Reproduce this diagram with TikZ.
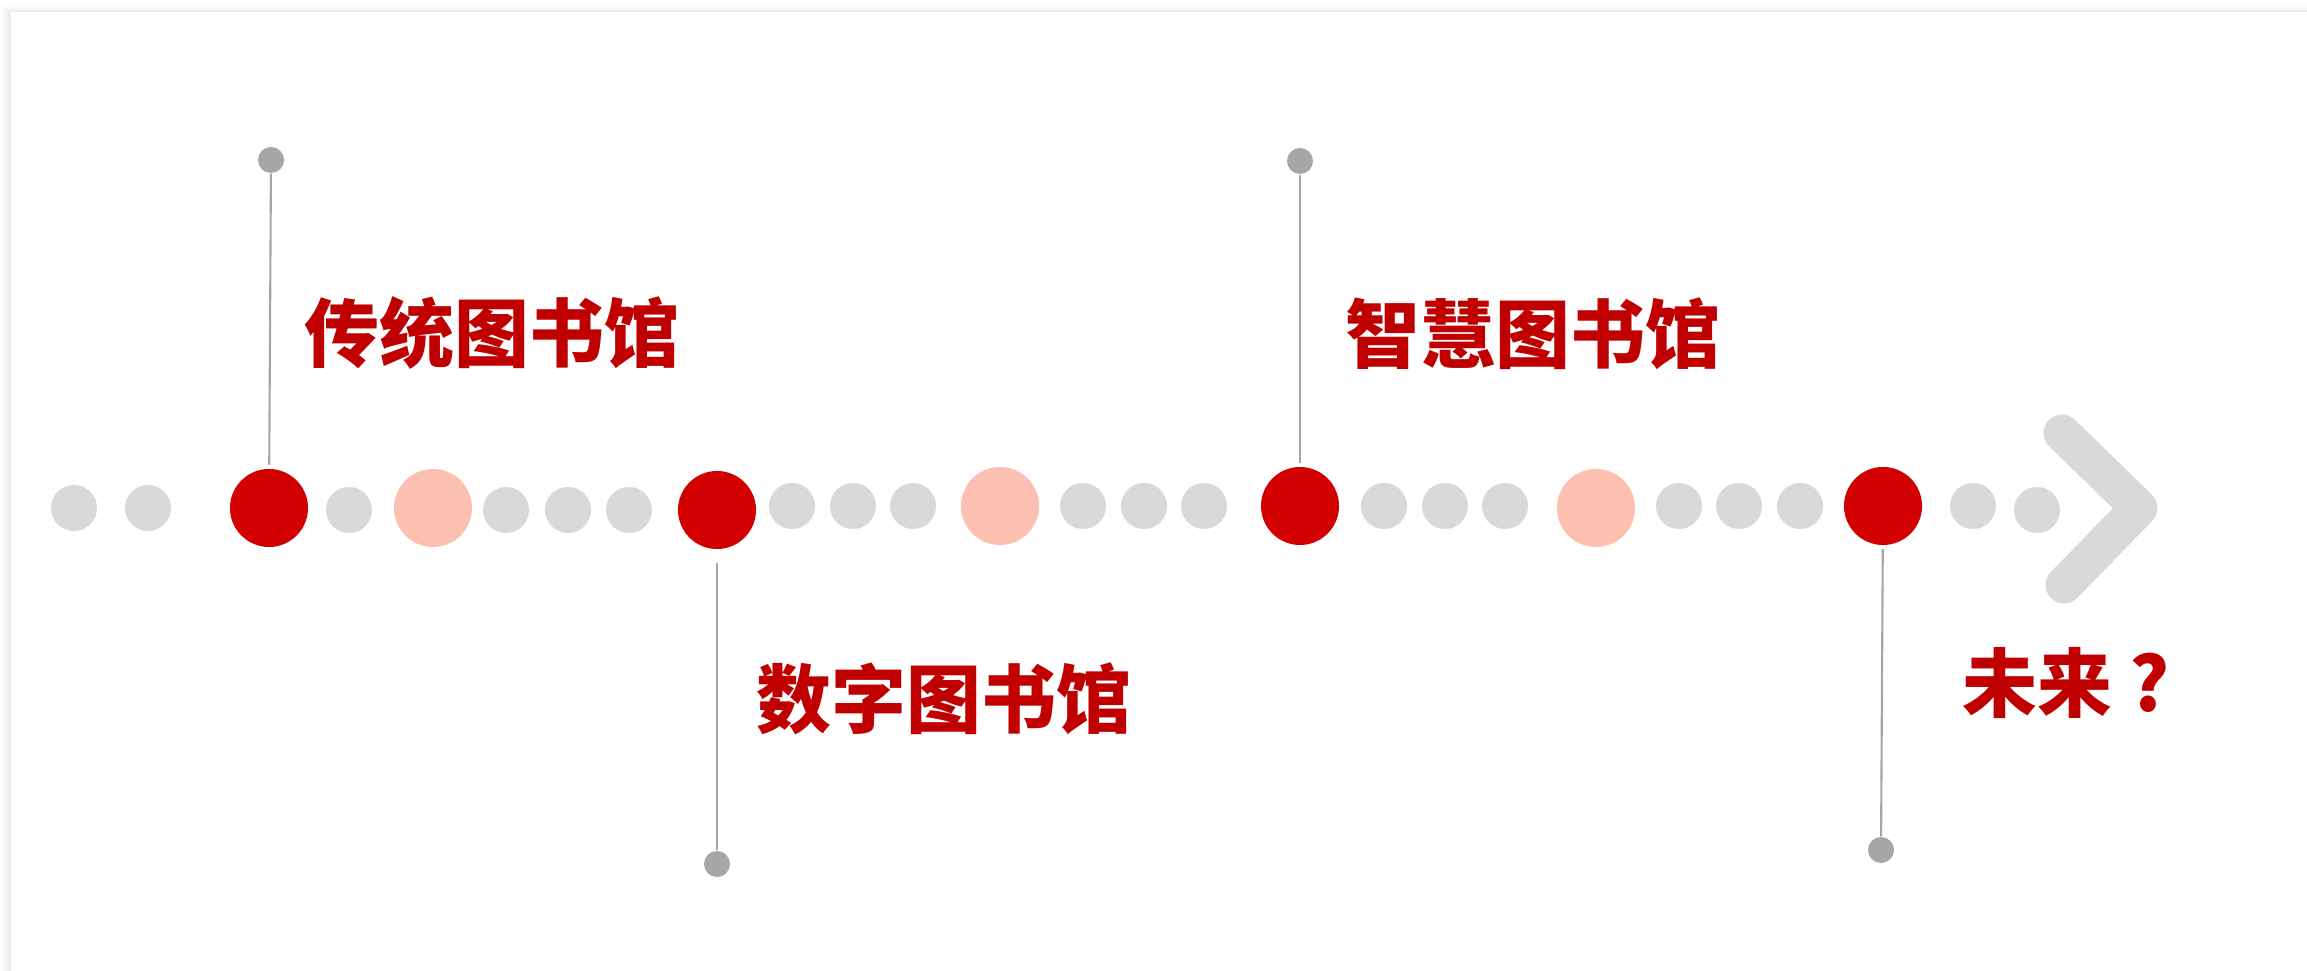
\documentclass[tikz,border=0pt]{standalone}
\usepackage{fontspec}
\newfontfamily\cjkfont{Noto Sans CJK SC}
\usetikzlibrary{positioning}
\definecolor{dotgray}{HTML}{D9D9D9}
\definecolor{pingray}{HTML}{A6A6A6}
\definecolor{dotred}{HTML}{D20000}
\definecolor{dotpink}{HTML}{FBC0B0}
\definecolor{textred}{HTML}{C00000}
\tikzset{
  smalldot/.style={circle,fill=dotgray,inner sep=0pt,minimum size=0.46cm},
  bigdot/.style={circle,fill=#1,inner sep=0pt,minimum size=0.78cm},
  pindot/.style={circle,fill=pingray,inner sep=0pt,minimum size=0.26cm},
  pinline/.style={draw=pingray,line width=0.6pt},
  stagetext/.style={anchor=west,inner sep=0pt,text=textred,
    font=\cjkfont\bfseries\fontsize{21.3pt}{21.3pt}\selectfont}
}
\begin{document}
\begin{tikzpicture}[x=0.01cm,y=-0.01cm]
\useasboundingbox (0,0) rectangle (2307,971);
    % card with a soft shadow on top and left
    \foreach \i in {1,...,10} {
        \fill[black,opacity=0.009] ({11-\i},{12-0.6*\i}) rectangle (2307,971);
    }
    \fill[white] (11,12) rectangle (2307,971);
    % grey dots of the time line
    \foreach \x/\y [count=\n] in {74/508,148/508,349/510,506/510,568/510,629/510,
        792/506,853/506,913/506,1083/506,1144/506,1204/506,
        1384/506,1445/506,1505/506,1679/506,1739/506,1800/506,
        1973/506,2037/510} {
            \node[smalldot] (g\n) at (\x,\y) {};
        }
    % the stages
    \node[bigdot=dotred]  (r1) at (269,508) {};
    \node[bigdot=dotpink] (k1) at (433,508) {};
    \node[bigdot=dotred]  (r2) at (717,510) {};
    \node[bigdot=dotpink] (k2) at (1000,506) {};
    \node[bigdot=dotred]  (r3) at (1300,506) {};
    \node[bigdot=dotpink] (k3) at (1596,508) {};
    \node[bigdot=dotred]  (r4) at (1883,506) {};
    % arrow head
    \draw[dotgray,line width=0.37cm,line cap=round,line join=round]
        (2062,433) -- (2139,508) -- (2064,585);
    % pins
    \node[pindot] (p1) at (271,160) {};
    \node[pindot] (p2) at (717,864) {};
    \node[pindot] (p3) at (1300,161) {};
    \node[pindot] (p4) at (1881,850) {};
    \draw[pinline,shorten >=1pt] (p1) -- (r1);
    \draw[pinline,shorten >=3.7pt] (p2) -- (r2);
    \draw[pinline,shorten >=1pt] (p3) -- (r3);
    \draw[pinline,shorten >=1pt] (p4) -- (r4);
    % labels
    \node[stagetext] (t1) at (304,333) {传统图书馆};
    \node[stagetext] (t2) at (756,699) {数字图书馆};
    \node[stagetext] (t3) at (1345,334) {智慧图书馆};
    \node[stagetext] (t4) at (1962,683) {未来 ?};
\end{tikzpicture}
\end{document}
